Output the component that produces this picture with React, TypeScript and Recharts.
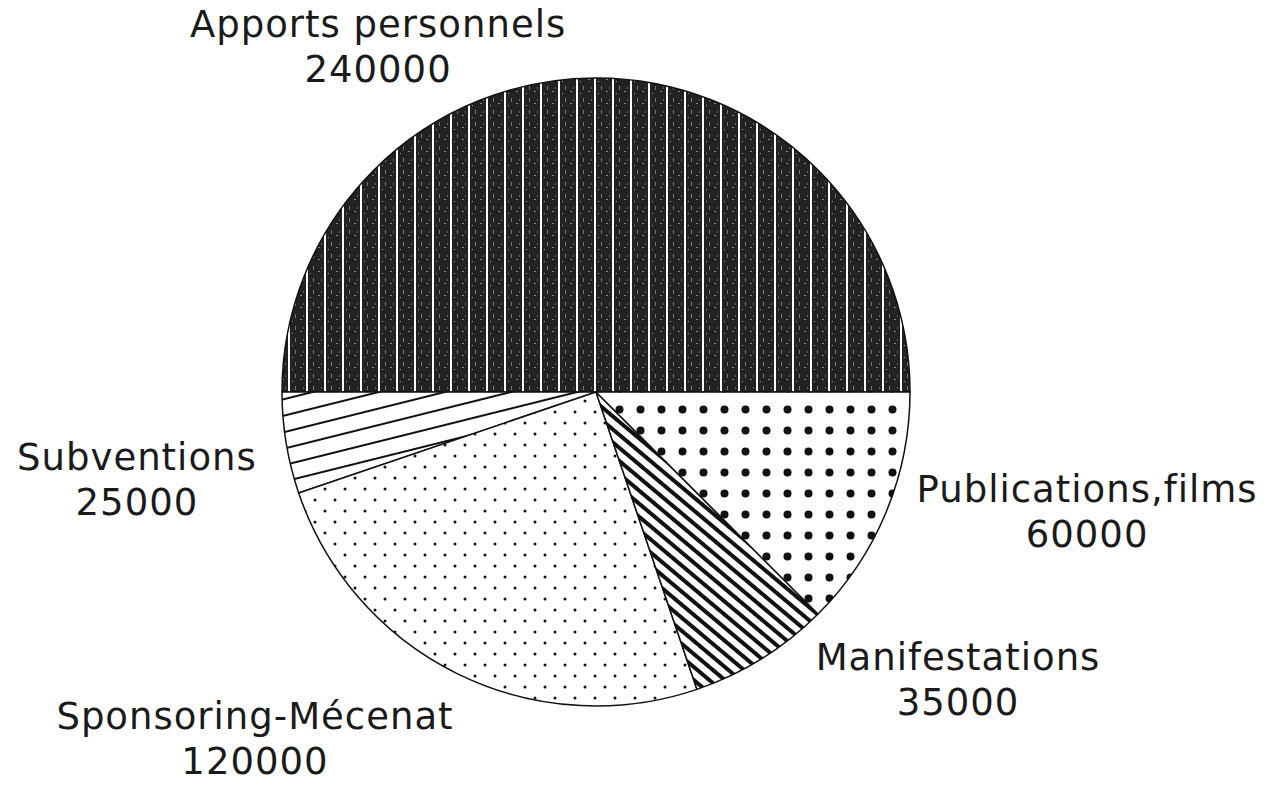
import React from 'react';
import { PieChart, Pie, Cell } from 'recharts';

const categories = [
  'Apports personnels',
  'Subventions',
  'Sponsoring-Mécenat',
  'Manifestations',
  'Publications,films',
];
const amounts = [240000, 25000, 120000, 35000, 60000];
const valueLabels = ['240000', '25000', '120000', '35000', '60000'];

const patternIds = ['pat-apports', 'pat-subv', 'pat-spons', 'pat-manif', 'pat-publ'];

// label anchor relative to the pie centre, in units of the outer radius
const labelFx = [-0.694, -1.462, -1.086, 1.153, 1.564];
const labelFy = [-1.131, 0.248, 1.072, 0.885, 0.35];

const data = categories.map((name, i) => ({ name, value: amounts[i], text: valueLabels[i] }));

const W = 1269;
const H = 785;
const CX = 596;
const CY = 392;
const R = 314;
const FONT = '"DejaVu Sans", "Liberation Sans", sans-serif';

const renderLabel = (props: any) => {
  const index: number = props.index;
  const cx: number = typeof props.cx === 'number' ? props.cx : CX;
  const cy: number = typeof props.cy === 'number' ? props.cy : CY;
  const r: number = typeof props.outerRadius === 'number' ? props.outerRadius : R;
  const x = cx + r * labelFx[index];
  const y = cy + r * labelFy[index];
  return (
    <text
      key={`lbl-${index}`}
      x={x}
      y={y}
      textAnchor="middle"
      fontFamily={FONT}
      fontSize={37}
      letterSpacing={1}
      fill="#1a1a1a"
    >
      <tspan x={x} dy={0}>{data[index].name}</tspan>
      <tspan x={x} dy={45}>{data[index].text}</tspan>
    </text>
  );
};

export default function App() {
  return (
    <div style={{ position: 'fixed', top: 0, left: 0, width: W, height: H, background: '#fff' }}>
      <PieChart width={W} height={H} margin={{ top: 0, right: 0, bottom: 0, left: 0 }}>
        <defs>
          <pattern id="pat-apports" width="18" height="12" patternUnits="userSpaceOnUse">
            <rect width="18" height="12" fill="#222" />
            <rect x="0" y="0" width="2" height="12" fill="#fff" />
            <rect x="7" y="2" width="1" height="4" fill="#777" />
            <rect x="12" y="7" width="2" height="1" fill="#888" />
            <rect x="4" y="9" width="1" height="1" fill="#999" />
            <rect x="15" y="3" width="1" height="2" fill="#666" />
          </pattern>
          <pattern
            id="pat-subv"
            width="16"
            height="16"
            patternUnits="userSpaceOnUse"
            patternTransform="rotate(-14)"
          >
            <rect width="16" height="16" fill="#fff" />
            <line x1="0" y1="8" x2="16" y2="8" stroke="#111" strokeWidth="2" />
          </pattern>
          <pattern id="pat-spons" width="20" height="22" patternUnits="userSpaceOnUse">
            <rect width="20" height="22" fill="#fff" />
            <circle cx="5" cy="5" r="1.5" fill="#111" />
            <circle cx="15" cy="16" r="1.5" fill="#111" />
          </pattern>
          <pattern
            id="pat-manif"
            width="10"
            height="10"
            patternUnits="userSpaceOnUse"
            patternTransform="rotate(40)"
          >
            <rect width="10" height="10" fill="#fff" />
            <line x1="0" y1="5" x2="10" y2="5" stroke="#111" strokeWidth="4" />
          </pattern>
          <pattern id="pat-publ" width="21" height="21" patternUnits="userSpaceOnUse">
            <rect width="21" height="21" fill="#fff" />
            <circle cx="10.5" cy="10.5" r="4" fill="#111" />
          </pattern>
        </defs>
        <Pie
          data={data}
          dataKey="value"
          nameKey="name"
          cx={CX}
          cy={CY}
          innerRadius={0}
          outerRadius={R}
          startAngle={0}
          endAngle={360}
          isAnimationActive={false}
          label={renderLabel}
          labelLine={false}
          stroke="#111"
          strokeWidth={1.5}
        >
          {data.map((d, i) => (
            <Cell key={d.name} fill={`url(#${patternIds[i]})`} stroke="#111" strokeWidth={1.5} />
          ))}
        </Pie>
      </PieChart>
    </div>
  );
}
